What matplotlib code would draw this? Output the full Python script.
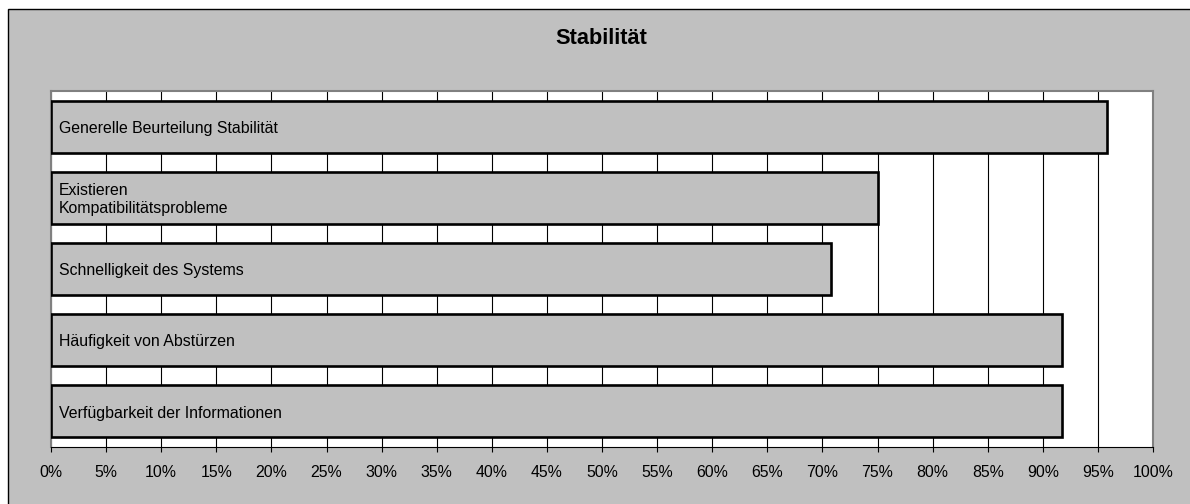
import matplotlib
matplotlib.use("Agg")
import matplotlib.pyplot as plt
from matplotlib.patches import Rectangle
from matplotlib.ticker import MultipleLocator, PercentFormatter

plt.rcParams["font.family"] = ["Liberation Sans", "DejaVu Sans"]

# survey results, share of positive answers
categories = [
    "Generelle Beurteilung Stabilität",
    "Existieren\nKompatibilitätsprobleme",
    "Schnelligkeit des Systems",
    "Häufigkeit von Abstürzen",
    "Verfügbarkeit der Informationen",
]
values = [95.8, 75.0, 70.8, 91.7, 91.7]
title = "Stabilität"

W, H = 1190, 504
fig = plt.figure(figsize=(W / 100, H / 100), dpi=100, facecolor="white")

# grey chart-area frame (runs off the right and bottom edge)
fig.patches.append(Rectangle((8 / W, -0.1), 1.2, 1 - 9 / H + 0.1,
                             transform=fig.transFigure, facecolor="#c0c0c0",
                             edgecolor="black", lw=1.0, zorder=-5))

ax = fig.add_axes([51 / W, 1 - 447 / H, (1153 - 51) / W, (447 - 91) / H])
ax.set_zorder(2)
ax.set_facecolor("white")

ypos = list(range(len(categories)))
ax.barh(ypos, values, height=0.73, color="#c0c0c0", edgecolor="black",
        linewidth=1.9, zorder=3)
for y, lab in zip(ypos, categories):
    ax.annotate(lab, (0, y), xytext=(5.8, -1.2), textcoords="offset points",
                ha="left", va="center", fontsize=11.4, linespacing=1.3,
                zorder=4)

ax.set_xlim(0, 100)
ax.set_ylim(len(categories) - 0.5, -0.5)
ax.xaxis.set_major_locator(MultipleLocator(5))
ax.xaxis.set_major_formatter(PercentFormatter(decimals=0))
ax.grid(axis="x", color="black", lw=0.8, zorder=1)
ax.set_axisbelow(True)
ax.set_yticks([])
ax.tick_params(axis="x", direction="out", length=3.8, width=0.8,
               labelsize=11.4, pad=9.2)

for side in ("left", "top", "right"):
    ax.spines[side].set_color("#808080")
    ax.spines[side].set_linewidth(1.5)
ax.spines["bottom"].set_color("black")
ax.spines["bottom"].set_linewidth(0.8)

fig.text(601 / W, 1 - 39 / H, title, ha="center", va="center",
         fontsize=15.7, fontweight="bold", zorder=3)

fig.savefig("out.png", dpi=100, facecolor=fig.get_facecolor())
